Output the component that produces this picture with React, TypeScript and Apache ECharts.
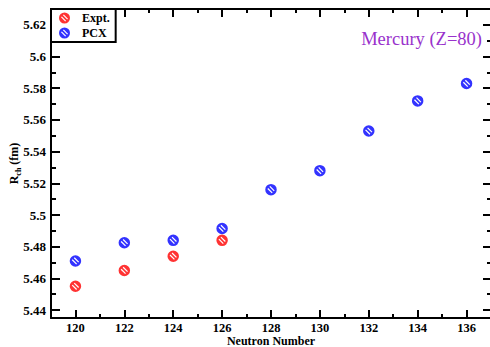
import React, { useEffect, useRef } from "react";
import * as echarts from "echarts";

const neutronNumbers = [120, 122, 124, 126, 128, 130, 132, 134, 136];
const exptNeutrons = [120, 122, 124, 126];
const exptRadii = [5.455, 5.465, 5.474, 5.484];
const pcxRadii = [5.471, 5.4825, 5.484, 5.4915, 5.516, 5.528, 5.553, 5.572, 5.583];
const xMajorTicks = [120, 122, 124, 126, 128, 130, 132, 134, 136];
const xMinorTicks = [121, 123, 125, 127, 129, 131, 133, 135];
const yMajorTicks = [5.44, 5.46, 5.48, 5.5, 5.52, 5.54, 5.56, 5.58, 5.6, 5.62];
const yMinorTicks = [5.45, 5.47, 5.49, 5.51, 5.53, 5.55, 5.57, 5.59, 5.61];

const FONT = "Liberation Serif";

function hatchedCircle(): string {
  const c = 10;
  const r = 10;
  let d = `M${c} ${c - r} A${r} ${r} 0 1 1 ${c} ${c + r} A${r} ${r} 0 1 1 ${c} ${c - r} Z`;
  const s = Math.SQRT1_2;
  const L = 5.4;
  const hw = 1.05;
  for (const o of [2.5, -2.5]) {
    const sx = c + o * s;
    const sy = c - o * s;
    const pts = [
      [sx - L * s - hw * s, sy - L * s + hw * s],
      [sx + L * s - hw * s, sy + L * s + hw * s],
      [sx + L * s + hw * s, sy + L * s - hw * s],
      [sx - L * s + hw * s, sy - L * s - hw * s],
    ];
    d += ` M${pts[0][0].toFixed(3)} ${pts[0][1].toFixed(3)}`;
    for (let i = 1; i < 4; i++) d += ` L${pts[i][0].toFixed(3)} ${pts[i][1].toFixed(3)}`;
    d += " Z";
  }
  return "path://" + d;
}

export default function App() {
  const ref = useRef<HTMLDivElement>(null);
  useEffect(() => {
    if (!ref.current) return;
    const chart = echarts.init(ref.current, undefined, { renderer: "svg" });
    const sym = hatchedCircle();
    const xMin = 119;
    const xMax = 137;
    const yMin = 5.435;
    const yMax = 5.63;
    const lineStyle = { color: "#000", width: 2 };
    const mkX = (position: string, ticks: number[], len: number, main: boolean, labels: boolean) => ({
      type: "value",
      min: xMin,
      max: xMax,
      position,
      axisLine: { show: main, onZero: false, lineStyle },
      axisTick: { show: true, inside: true, length: len, customValues: ticks, lineStyle: { color: "#000", width: 2 } },
      axisLabel: labels
        ? { show: true, customValues: ticks, margin: 4, color: "#000", fontFamily: FONT, fontWeight: "bold", fontSize: 12.5, lineHeight: 12 }
        : { show: false },
      splitLine: { show: false },
    });
    const mkY = (position: string, ticks: number[], len: number, main: boolean, labels: boolean) => ({
      type: "value",
      min: yMin,
      max: yMax,
      position,
      axisLine: { show: main, onZero: false, lineStyle },
      axisTick: { show: true, inside: true, length: len, customValues: ticks, lineStyle: { color: "#000", width: 2 } },
      axisLabel: labels
        ? {
            show: true,
            customValues: ticks,
            margin: 5,
            color: "#000",
            fontFamily: FONT,
            fontWeight: "bold",
            fontSize: 13,
            formatter: (v: number) => String(+v.toFixed(2)),
          }
        : { show: false },
      splitLine: { show: false },
    });
    const xMainAxis: any = mkX("bottom", xMajorTicks, 8, true, true);
    xMainAxis.name = "Neutron Number";
    xMainAxis.nameLocation = "middle";
    xMainAxis.nameGap = 17;
    xMainAxis.nameMoveOverlap = false;
    xMainAxis.nameTextStyle = { color: "#000", fontFamily: FONT, fontWeight: "bold", fontSize: 12, lineHeight: 12 };
    const yMainAxis: any = mkY("left", yMajorTicks, 9, true, true);
    yMainAxis.name = "{a|R}{b|ch}{a| (fm)}";
    yMainAxis.nameLocation = "middle";
    yMainAxis.nameGap = 29;
    yMainAxis.nameMoveOverlap = false;
    yMainAxis.nameTextStyle = {
      color: "#000",
      rich: {
        a: { fontFamily: FONT, fontWeight: "bold", fontSize: 12, color: "#000", lineHeight: 16 },
        b: { fontFamily: FONT, fontWeight: "bold", fontSize: 8, color: "#000", verticalAlign: "bottom", lineHeight: 16, padding: [6, 0, 0, 0] },
      },
    };
    chart.setOption({
      animation: false,
      backgroundColor: "#fff",
      grid: { left: 51, top: 9, width: 440, height: 309, containLabel: false, outerBoundsMode: "none" },
      xAxis: [
        xMainAxis,
        mkX("bottom", xMinorTicks, 4, false, false),
        mkX("top", xMajorTicks, 8, true, false),
        mkX("top", xMinorTicks, 4, false, false),
      ],
      yAxis: [
        yMainAxis,
        mkY("left", yMinorTicks, 5, false, false),
        mkY("right", yMajorTicks, 8, true, false),
        mkY("right", yMinorTicks, 4, false, false),
      ],
      legend: {
        left: 51,
        top: 9,
        orient: "vertical",
        borderColor: "#000",
        borderWidth: 2,
        backgroundColor: "#fff",
        padding: [3, 6, 3, 8],
        itemGap: 3,
        itemWidth: 11,
        itemHeight: 11,
        icon: sym,
        textStyle: { color: "#000", fontFamily: FONT, fontWeight: "bold", fontSize: 12, padding: [0, 0, 0, 7] },
        data: ["Expt.", "PCX"],
      },
      graphic: [
        {
          type: "text",
          right: 8,
          top: 29,
          style: { text: "Mercury (Z=80)", fill: "#9932cc", font: `18.5px "${FONT}"` },
        },
      ],
      series: [
        {
          name: "Expt.",
          type: "scatter",
          symbol: sym,
          symbolSize: 11.5,
          itemStyle: { color: "#ff0000" },
          data: exptNeutrons.map((n, i) => [n, exptRadii[i]]),
          z: 3,
        },
        {
          name: "PCX",
          type: "scatter",
          symbol: sym,
          symbolSize: 11.5,
          itemStyle: { color: "#0000ff" },
          data: neutronNumbers.map((n, i) => [n, pcxRadii[i]]),
          z: 2,
        },
      ],
    });
    return () => chart.dispose();
  }, []);
  return <div ref={ref} style={{ position: "fixed", left: 0, top: 0, width: 490, height: 347 }} />;
}
